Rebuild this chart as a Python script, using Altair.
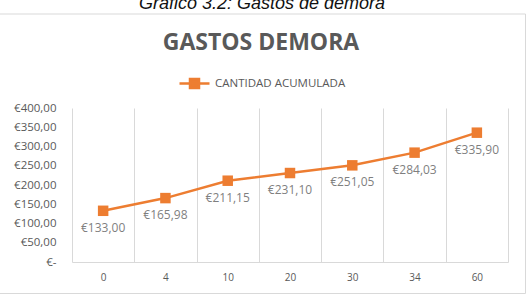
import altair as alt
import pandas as pd

categories = ["0", "4", "10", "20", "30", "34", "60"]
values = [133.00, 165.98, 211.15, 231.10, 251.05, 284.03, 335.90]
series_name = "CANTIDAD ACUMULADA"
y_ticks = [0, 50, 100, 150, 200, 250, 300, 350, 400]

df = pd.DataFrame({"dias": categories, "gasto": values, "serie": [series_name] * len(categories)})

ORANGE = "#ED7D31"
GRAY = "#595959"
FONT = "Open Sans"

x_enc = alt.X("dias:N", sort=None, title=None,
              scale=alt.Scale(paddingInner=0, paddingOuter=0),
              axis=alt.Axis(labelAngle=0, grid=True, tickBand="extent", gridColor="#d9d9d9",
                            ticks=False, domainColor="#d9d9d9", labelColor=GRAY,
                            labelFont=FONT, labelFontSize=10, labelPadding=10))
y_enc = alt.Y("gasto:Q", title=None,
              scale=alt.Scale(domain=[0, 400], nice=False),
              axis=alt.Axis(values=y_ticks, grid=False, domain=False, ticks=False,
                            labelPadding=16, labelColor=GRAY, labelFont=FONT, labelFontSize=11.5,
                            labelExpr="datum.value == 0 ? '€-\u00a0\u00a0' : '€' + replace(format(datum.value, '.2f'), '.', ',')"))

base = alt.Chart(df)

border = alt.Chart(alt.Data(values=[{}])).mark_rect(fill=None, stroke="#d9d9d9", strokeWidth=1).encode(
    x=alt.value(-80), x2=alt.value(453.5), y=alt.value(-94), y2=alt.value(185.5))

line = base.mark_line(color=ORANGE, strokeWidth=2.5).encode(x=x_enc, y=y_enc)

legend_path = "M-1,0H1M-0.3,-0.3H0.3V0.3H-0.3Z"
points = base.mark_point(shape="square", filled=True, size=110, opacity=1).encode(
    x=x_enc, y=y_enc,
    color=alt.Color("serie:N", scale=alt.Scale(range=[ORANGE]),
                    legend=alt.Legend(title=None, orient="none", legendX=106, legendY=-41,
                                      symbolType=legend_path, symbolSize=900,
                                      symbolStrokeWidth=2.5, symbolStrokeColor=ORANGE,
                                      symbolFillColor=ORANGE, symbolOpacity=1,
                                      labelFont=FONT, labelFontSize=11.5, labelColor=GRAY,
                                      labelOffset=4)))

labels = base.transform_calculate(
    etiqueta="'€' + replace(format(datum.gasto, '.2f'), '.', ',')"
).mark_text(dy=17, font=FONT, fontSize=12, color="#7f7f7f").encode(
    x=x_enc, y=y_enc, text="etiqueta:N")

caption = alt.Chart(alt.Data(values=[{}])).mark_text(
    font="Liberation Sans", fontStyle="italic", fontSize=18, color="#111111",
    baseline="alphabetic", align="center").encode(
    x=alt.value(190), y=alt.value(-99), text=alt.value("Gráfico 3.2: Gastos de demora"))

title = alt.Chart(alt.Data(values=[{}])).mark_text(
    font=FONT, fontWeight="bold", fontSize=23, color=GRAY,
    baseline="alphabetic", align="center").encode(
    x=alt.value(189), y=alt.value(-58), text=alt.value("GASTOS DEMORA"))

chart = alt.layer(border, line, points, labels, caption, title).properties(
    width=436, height=154,
    autosize=alt.AutoSizeParams(type="none"),
    padding={"left": 72, "top": 108, "right": 20, "bottom": 34},
    background="white",
).configure_view(stroke=None)

chart.save("out.html", embed_options={"renderer": "svg", "actions": False})
